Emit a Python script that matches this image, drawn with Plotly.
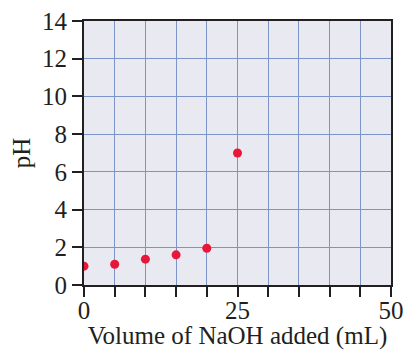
import plotly.graph_objects as go

volumen = [0, 5, 10, 15, 20, 25]
ph = [1.0, 1.1, 1.37, 1.6, 1.95, 7.0]

x_ticks = [0, 5, 10, 15, 20, 25, 30, 35, 40, 45, 50]
x_labels = ["0", "", "", "", "", "25", "", "", "", "", "50"]
y_ticks = [0, 2, 4, 6, 8, 10, 12, 14]

fuente = "Liberation Serif"
grid = "#7d94c8"

fig = go.Figure()
fig.add_trace(go.Scatter(
    x=volumen, y=ph, mode="markers",
    marker=dict(color="#e8173a", size=9),
    showlegend=False
))

fig.update_layout(
    width=404, height=350,
    margin=dict(l=84, r=13, t=21, b=65),
    paper_bgcolor="white",
    plot_bgcolor="#e9e9f1",
    font=dict(family=fuente, size=24, color="#231f20"),
    xaxis=dict(
        range=[0, 50], tickvals=x_ticks, ticktext=x_labels,
        tickfont=dict(size=25), ticklabelstandoff=-8,
        ticks="outside", ticklen=10, tickwidth=2, tickcolor="#231f20",
        showgrid=True, gridcolor=grid, gridwidth=1,
        showline=True, linecolor="#231f20", linewidth=2, mirror=True,
        zeroline=False, automargin=False,
        title=dict(text="Volume of NaOH added (mL)", font=dict(size=25), standoff=7),
    ),
    yaxis=dict(
        range=[0, 14], tickvals=y_ticks,
        tickfont=dict(size=25),
        ticks="outside", ticklen=10, tickwidth=2, tickcolor="#231f20",
        showgrid=True, gridcolor=grid, gridwidth=1,
        showline=True, linecolor="#231f20", linewidth=2, mirror=True,
        zeroline=False, automargin=False,
        title=dict(text="pH", font=dict(size=25), standoff=4),
    ),
)

# quitar el margen por defecto del body para que el grafico empiece en (0,0)
fig.write_html("out.html", config={"displayModeBar": False},
               post_script="document.body.style.margin='0';")
